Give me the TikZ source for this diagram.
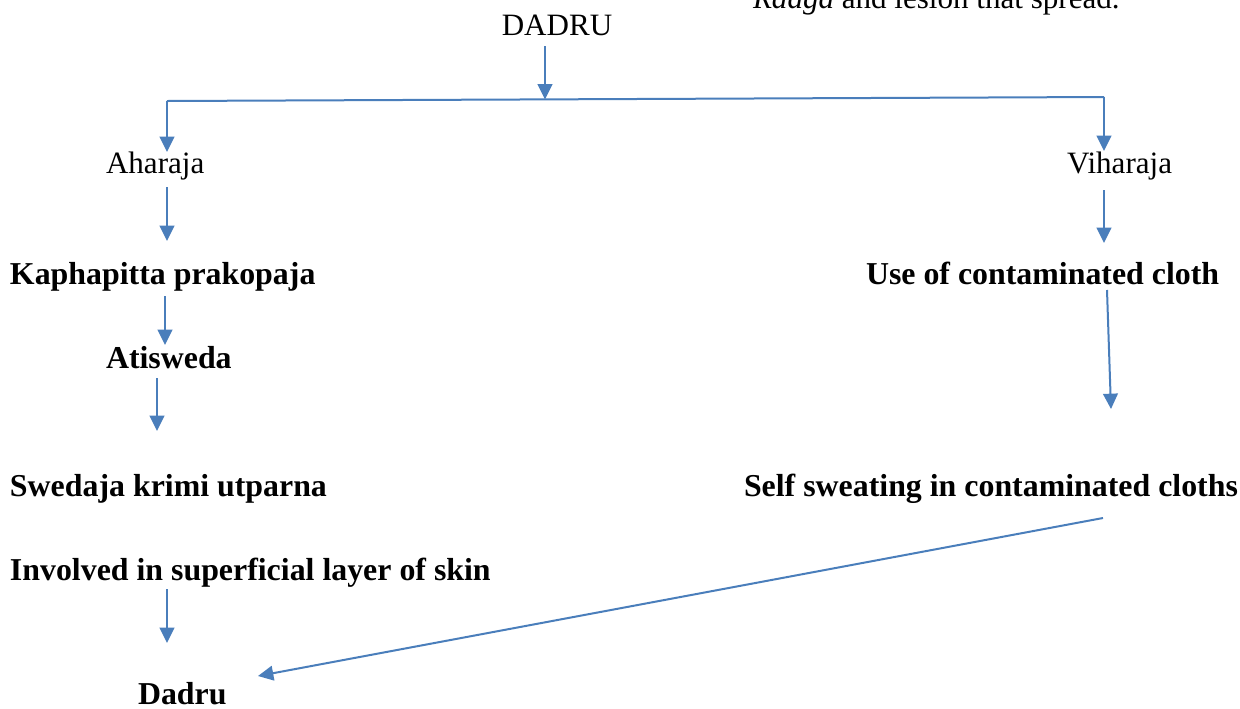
\documentclass[tikz,border=0pt]{standalone}
\usepackage{fontspec}
\setmainfont{Liberation Serif}
\usetikzlibrary{arrows.meta}
\definecolor{conn}{HTML}{4A7EBB}
\begin{document}
\begin{tikzpicture}[x=0.75pt,y=-0.75pt,
  every node/.style={inner sep=0pt,outer sep=0pt,font=\fontsize{23.3}{28}\selectfont},
  lbl/.style={anchor=base west},
  blbl/.style={anchor=base west,font=\fontsize{23.9}{28}\selectfont\bfseries},
  line/.style={draw=conn,line width=1.5pt},
  arr/.style={line,-{Triangle[width=11pt,length=11.5pt]}}]
\useasboundingbox (0,0) rectangle (1240,708);
% texts
\node[lbl] (raaga) at (753,8) {\textit{Raaga} and lesion that spread.};
\node[anchor=base] (dadru) at (557,35) {DADRU};
\node[lbl] (ahar) at (106,173) {Aharaja};
\node[lbl] (vihar) at (1067,173) {Viharaja};
\node[blbl] (kapha) at (10,284) {Kaphapitta prakopaja};
\node[blbl] (cloth) at (866,284) {Use of contaminated cloth};
\node[blbl] (atis) at (106,368) {Atisweda};
\node[blbl] (swed) at (10,496) {Swedaja krimi utparna};
\node[blbl] (self) at (744,496) {Self sweating in contaminated cloths};
\node[blbl] (invol) at (10,580) {Involved in superficial layer of skin};
\node[blbl] (dad2) at (138,704) {Dadru};
% connector points
\coordinate (d0) at (545,46);
\coordinate (busL) at (167,101);
\coordinate (busR) at (1104,97);
\coordinate (busM) at (545,99.4);
\coordinate (aTop) at (167,152);
\coordinate (vTop) at (1104,151);
\coordinate (a1) at (167,187); \coordinate (a2) at (167,241);
\coordinate (v1) at (1104,190); \coordinate (v2) at (1104,243);
\coordinate (k1) at (165,296); \coordinate (k2) at (165,345);
\coordinate (t1) at (157,378); \coordinate (t2) at (157,431);
\coordinate (c1) at (1107,290); \coordinate (c2) at (1111,409);
\coordinate (i1) at (167,589); \coordinate (i2) at (167,643);
\coordinate (s1) at (1103,518); \coordinate (s2) at (258,676);
% connectors
\draw[arr] (d0) -- (busM);
\draw[line] (busL) -- (busR);
\draw[arr] (busL) -- (aTop);
\draw[arr] (busR) -- (vTop);
\draw[arr] (a1) -- (a2);
\draw[arr] (v1) -- (v2);
\draw[arr] (k1) -- (k2);
\draw[arr] (t1) -- (t2);
\draw[arr] (c1) -- (c2);
\draw[arr] (i1) -- (i2);
\draw[arr] (s1) -- (s2);
\end{tikzpicture}
\end{document}
